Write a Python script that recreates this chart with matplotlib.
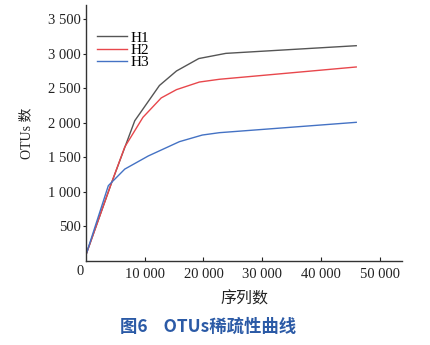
import matplotlib
matplotlib.use("Agg")
import matplotlib.pyplot as plt
from matplotlib.ticker import FuncFormatter

# rarefaction curves: sequencing depth vs observed OTUs
h1_x = [0, 4300, 8300, 12500, 15400, 19200, 23800, 46000]
h1_y = [90, 1120, 2030, 2540, 2750, 2930, 3005, 3116]

h2_x = [0, 4300, 6600, 9700, 12800, 15400, 19300, 22700, 46000]
h2_y = [90, 1120, 1650, 2080, 2360, 2480, 2590, 2630, 2808]

h3_x = [0, 3800, 6600, 10600, 15900, 19800, 22700, 46000]
h3_y = [90, 1090, 1330, 1520, 1727, 1823, 1857, 2007]

labels = ["H1", "H2", "H3"]
colors = ["#555555", "#e8474c", "#4472c4"]

yticks = [500, 1000, 1500, 2000, 2500, 3000, 3500]
xticks = [10000, 20000, 30000, 40000, 50000]

serif = "Liberation Serif"
cjk = ["Liberation Serif", "Noto Sans CJK SC"]

fig = plt.figure(figsize=(4.3, 3.45), dpi=100)
ax = fig.add_axes([0.2, 0.2435, 0.735, 0.742])

for xs, ys, lab, c in zip([h1_x, h2_x, h3_x], [h1_y, h2_y, h3_y], labels, colors):
    ax.plot(xs, ys, color=c, lw=1.0, label=lab)

ax.set_xlim(0, 53800)
ax.set_ylim(0, 3705)

sep = FuncFormatter(lambda v, p: "{:,}".format(int(v)).replace(",", " "))
ax.set_xticks(xticks)
ax.set_yticks(yticks)
ax.xaxis.set_major_formatter(sep)
ax.yaxis.set_major_formatter(sep)
ax.tick_params(axis="x", direction="in", length=3, width=0.8, pad=5,
               labelsize=10.5, colors="#222222")
ax.tick_params(axis="y", direction="out", length=2.5, width=0.8, pad=1.5,
               labelsize=10.5, colors="#222222")
for t in ax.get_xticklabels() + ax.get_yticklabels():
    t.set_family(serif)

for s in ["top", "right"]:
    ax.spines[s].set_visible(False)
for s in ["left", "bottom"]:
    ax.spines[s].set_linewidth(1.0)
    ax.spines[s].set_color("#333333")

# shared origin label
ax.annotate("0", xy=(0, 0), xytext=(-4.5, -3), textcoords="offset points",
            ha="center", va="top", fontsize=10.5, family=serif, color="#222222")

ax.set_ylabel("OTUs 数", family=cjk, fontsize=10, color="#222222", labelpad=10)
ax.set_xlabel("序列数", family=["Noto Sans CJK SC"], fontsize=11.5, color="#222222",
              labelpad=7)

leg = ax.legend(loc="upper left", bbox_to_anchor=(0.0, 0.94), frameon=False,
                prop={"family": serif, "size": 11}, handlelength=2.0,
                handletextpad=0.2, labelspacing=-0.1, borderaxespad=0.3)

fig.text(0.485, 0.053, "图6    OTUs稀疏性曲线", ha="center", va="center",
         family=["Noto Sans CJK SC"], fontsize=12.5, fontweight="bold",
         color="#2b5aa6")

fig.savefig("out.png", dpi=100)
